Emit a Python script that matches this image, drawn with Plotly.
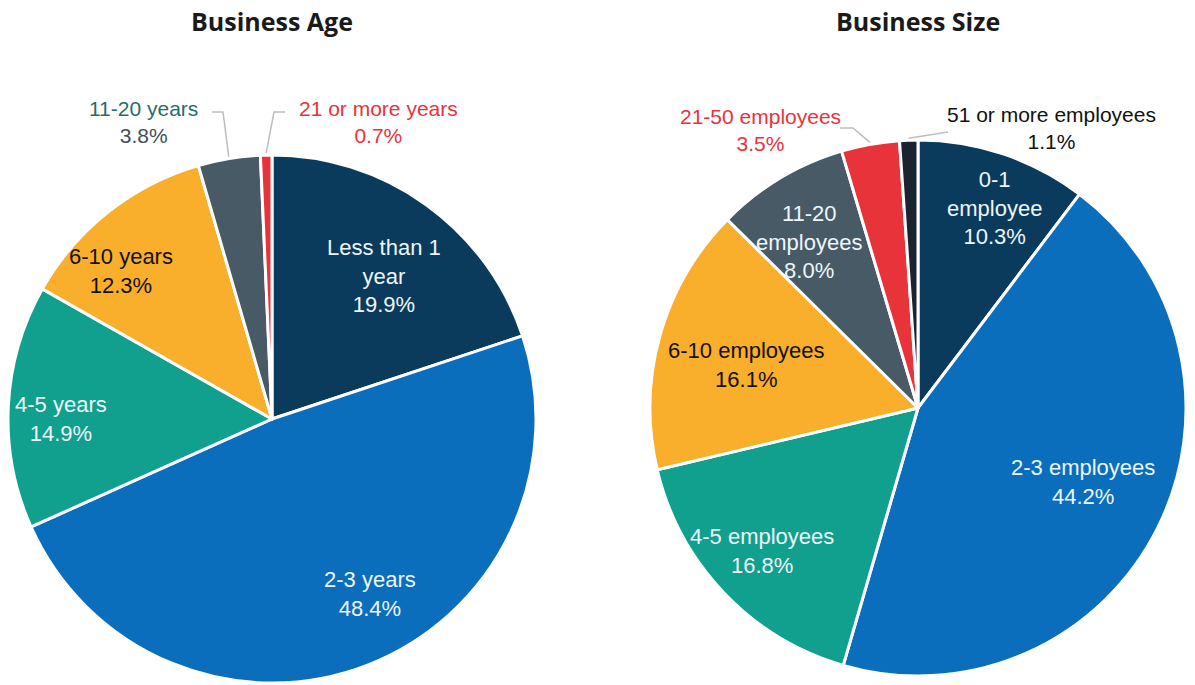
import math
import plotly.graph_objects as go

# ---- data ----
age_labels = ["Less than 1 year", "2-3 years", "4-5 years", "6-10 years",
              "11-20 years", "21 or more years"]
age_text = ["Less than 1<br>year", "2-3 years", "4-5 years", "6-10 years",
            "11-20 years", "21 or more years"]
age_values = [19.9, 48.4, 14.9, 12.3, 3.8, 0.7]

size_labels = ["0-1 employee", "2-3 employees", "4-5 employees", "6-10 employees",
               "11-20 employees", "21-50 employees", "51 or more employees"]
size_text = ["0-1<br>employee", "2-3 employees", "4-5 employees", "6-10 employees",
             "11-20<br>employees", "21-50 employees", "51 or more employees"]
size_values = [10.3, 44.2, 16.8, 16.1, 8.0, 3.5, 1.1]

# ---- styling ----
W, H = 1195, 685
NAVY, BLUE, TEAL, ORANGE, SLATE, RED, INK = (
    "#0b3b5c", "#0a6ebd", "#12a08e", "#f9ae2c", "#475a66", "#e8333a", "#1b2330")
WHITE_TXT = "#eef6fb"
FONT = "Liberation Sans, Arial, sans-serif"
IN_SIZE = 22
OUT_SIZE = 21

age_colors = [NAVY, BLUE, TEAL, ORANGE, SLATE, RED]
size_colors = [NAVY, BLUE, TEAL, ORANGE, SLATE, RED, INK]

# in-slice label placement: (text colour, radius fraction, angle nudge in degrees)
age_inside = {0: (WHITE_TXT, 0.69, 2.3), 1: (WHITE_TXT, 0.76, -7.9),
              2: (WHITE_TXT, 0.80, -2.7), 3: ("#111111", 0.80, -7.3)}
size_inside = {0: (WHITE_TXT, 0.80, 2.3), 1: (WHITE_TXT, 0.675, -2.4),
               2: (WHITE_TXT, 0.79, 1.1), 3: ("#111111", 0.66, -1.7),
               4: (WHITE_TXT, 0.74, -2.4)}

# pie geometry in pixels (center x, center y, radius)
AGE_GEOM = (272, 419, 264)
SIZE_GEOM = (918, 408, 268)


def domain(geom):
    cx, cy, r = geom
    return dict(x=[(cx - r) / W, (cx + r) / W],
                y=[1 - (cy + r) / H, 1 - (cy - r) / H])


def mid_angle(vals, idx):
    """Angle (radians, clockwise from 12 o'clock) at the middle of slice idx."""
    total = sum(vals)
    return 2 * math.pi * (sum(vals[:idx]) + vals[idx] / 2) / total


def polar_px(geom, ang, rad):
    cx, cy, _ = geom
    return cx + rad * math.sin(ang), cy - rad * math.cos(ang)


def px(x, y):
    return x / W, 1 - y / H


fig = go.Figure()

for vals, labels, cols, geom in [
    (age_values, age_labels, age_colors, AGE_GEOM),
    (size_values, size_labels, size_colors, SIZE_GEOM),
]:
    fig.add_trace(go.Pie(
        labels=labels, values=vals, sort=False, direction="clockwise", rotation=0,
        textinfo="none",
        marker=dict(colors=cols, line=dict(color="white", width=3)),
        domain=domain(geom), hoverinfo="label+percent", showlegend=False,
    ))

# labels inside the slices
for vals, disp, placement, geom in [
    (age_values, age_text, age_inside, AGE_GEOM),
    (size_values, size_text, size_inside, SIZE_GEOM),
]:
    for idx, (col, rfrac, nudge) in placement.items():
        ang = mid_angle(vals, idx) + math.radians(nudge)
        x, y = px(*polar_px(geom, ang, rfrac * geom[2]))
        fig.add_annotation(x=x, y=y, xref="paper", yref="paper",
                           text=f"{disp[idx]}<br>{vals[idx]:.1f}%", showarrow=False,
                           xanchor="center", yanchor="middle", align="center",
                           font=dict(family=FONT, size=IN_SIZE, color=col))

# titles
for title, geom in [("Business Age", AGE_GEOM), ("Business Size", SIZE_GEOM)]:
    x, y = px(geom[0], 21)
    fig.add_annotation(x=x, y=y, xref="paper", yref="paper", text=title,
                       showarrow=False, xanchor="center", yanchor="middle",
                       font=dict(family="Open Sans, sans-serif", size=25, weight=700,
                                 color="#1a1a1a"))

# outside labels with leader lines: (values, index, geometry, label center, elbow, line end, text)
outside = [
    (age_values, 4, AGE_GEOM, (143, 122), (223, 112), (212, 112),
     f"<span style='color:#1f6e6a'>{age_labels[4]}</span><br>"
     f"<span style='color:#3f4f5a'>{age_values[4]:.1f}%</span>"),
    (age_values, 5, AGE_GEOM, (378, 122), (274, 112), (285, 112),
     f"<span style='color:{RED}'>{age_labels[5]}<br>{age_values[5]:.1f}%</span>"),
    (size_values, 5, SIZE_GEOM, (760, 130), (853, 128), (840, 128),
     f"<span style='color:{RED}'>{size_labels[5]}<br>{size_values[5]:.1f}%</span>"),
    (size_values, 6, SIZE_GEOM, (1051, 128), None, (948, 132),
     f"<span style='color:#111111'>{size_labels[6]}<br>{size_values[6]:.1f}%</span>"),
]

for vals, idx, geom, center, elbow, end, txt in outside:
    ex, ey = polar_px(geom, mid_angle(vals, idx), geom[2] + 2)
    pts = [(ex, ey)] + ([elbow] if elbow else []) + [end]
    path = "M " + " L ".join(f"{px(x, y)[0]:.5f},{px(x, y)[1]:.5f}" for x, y in pts)
    fig.add_shape(type="path", path=path, xref="paper", yref="paper",
                  line=dict(color="#bdbdbd", width=1.5))
    x, y = px(*center)
    fig.add_annotation(x=x, y=y, xref="paper", yref="paper", text=txt, showarrow=False,
                       xanchor="center", yanchor="middle", align="center",
                       font=dict(family=FONT, size=OUT_SIZE))

fig.update_layout(
    width=W, height=H, margin=dict(l=0, r=0, t=0, b=0),
    paper_bgcolor="white", plot_bgcolor="white",
    font=dict(family=FONT),
)

fig.write_html("out.html", config={"displayModeBar": False})
